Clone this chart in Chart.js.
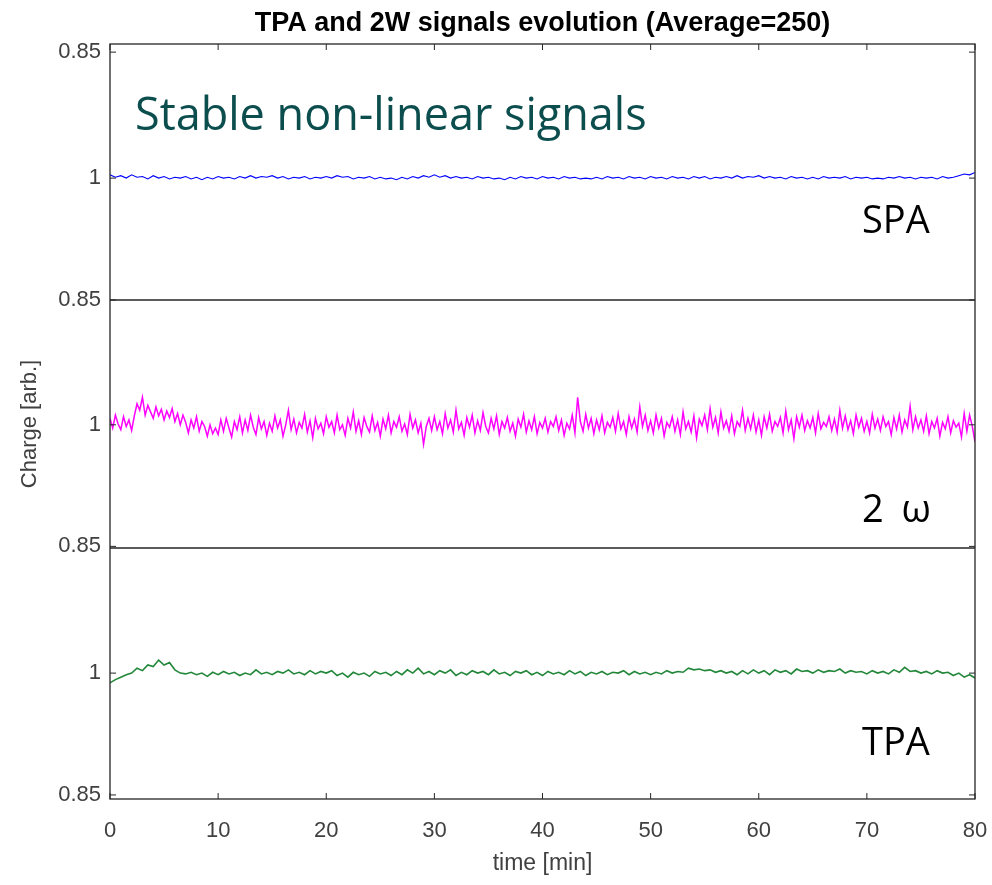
<!DOCTYPE html>
<html>
<head>
<meta charset="utf-8">
<script src="https://cdn.jsdelivr.net/npm/chart.js@4.4.1/dist/chart.umd.min.js"></script>
<style>
  html, body { margin: 0; padding: 0; background: #fff; }
  #wrap { width: 992px; height: 885px; }
</style>
</head>
<body>
<div id="wrap"><canvas id="signalsChart" width="992" height="885"></canvas></div>
<script>
// sampling steps of the recorded traces (minutes)
var SPA_STEP = 0.5;
var TWOW_STEP = 0.25;
var TPA_STEP = 0.5;

// SPA trace (blue), one value every 0.5 min from 0 to 80
var spaValues = [
    1.004, 1.001, 1.003, 1.000, 1.004, 1.001, 1.002, 0.999, 1.003, 1.000,
    1.002, 0.999, 1.001, 1.000, 1.002, 0.999, 1.001, 0.998, 1.001, 0.999,
    1.002, 1.000, 1.001, 0.999, 1.002, 1.000, 1.003, 1.000, 1.002, 1.001,
    1.003, 1.000, 1.002, 0.999, 1.001, 1.000, 1.002, 0.999, 1.001, 1.000,
    1.002, 1.000, 1.003, 1.001, 1.002, 0.999, 1.001, 1.000, 1.002, 0.999,
    1.001, 0.999, 1.000, 0.998, 1.001, 0.999, 1.002, 1.000, 1.003, 1.001,
    1.004, 1.001, 1.003, 1.000, 1.002, 1.000, 1.001, 0.999, 1.002, 1.000,
    1.001, 0.999, 1.000, 0.998, 1.001, 0.999, 1.002, 1.000, 1.001, 0.999,
    1.002, 1.000, 1.001, 0.999, 1.002, 1.000, 1.001, 0.999, 1.000, 0.999,
    1.001, 0.999, 1.002, 1.000, 1.001, 0.999, 1.002, 1.000, 1.001, 0.999,
    1.002, 1.000, 1.001, 0.999, 1.002, 1.000, 1.001, 0.999, 1.002, 1.000,
    1.002, 0.999, 1.001, 1.000, 1.002, 1.000, 1.003, 1.000, 1.002, 1.001,
    1.003, 1.000, 1.002, 1.000, 1.001, 0.999, 1.002, 1.000, 1.001, 0.999,
    1.001, 0.999, 1.002, 1.000, 1.001, 1.000, 1.002, 0.999, 1.001, 1.000,
    1.001, 0.999, 1.000, 0.999, 1.001, 1.000, 1.002, 1.000, 1.001, 0.999,
    1.001, 1.000, 1.001, 0.999, 1.002, 1.000, 1.001, 1.003, 1.005, 1.004,
    1.007
];

// 2 omega trace (magenta), one value every 0.25 min
var twoWValues = [
    1.008, 0.996, 1.012, 1.001, 0.994, 1.010, 0.998, 1.006, 0.993, 1.011,
    1.026, 1.018, 1.034, 1.012, 1.024, 1.016, 1.008, 1.022, 1.011, 1.019,
    1.006, 1.017, 1.009, 1.020, 1.004, 1.014, 1.000, 1.012, 1.003, 0.990,
    1.006, 0.996, 1.010, 0.992, 1.004, 0.998, 0.986, 1.000, 0.989, 0.996,
    0.988, 1.006, 0.992, 1.008, 0.996, 0.985, 1.004, 0.994, 1.010, 0.990,
    1.006, 0.993, 1.012, 0.997, 0.988, 1.009, 0.995, 1.004, 0.987, 1.002,
    0.992, 1.011, 0.996, 1.006, 0.986, 1.000, 1.018, 0.994, 1.007, 0.990,
    1.003, 0.996, 1.013, 0.991, 1.005, 0.984, 1.008, 0.995, 1.002, 0.989,
    1.010, 0.997, 1.004, 0.990, 1.012, 0.994, 1.000, 0.987, 1.008, 0.996,
    1.016, 0.992, 1.005, 0.988, 1.009, 0.998, 0.991, 1.011, 0.993, 1.003,
    0.986, 1.007, 0.995, 1.012, 0.990, 1.004, 0.997, 1.010, 0.992, 1.001,
    0.988, 1.013, 0.996, 1.006, 0.990, 1.002, 0.976, 0.998, 1.008, 0.993,
    1.010, 0.994, 1.004, 0.989, 1.014, 0.996, 1.006, 0.991, 1.018, 0.995,
    1.003, 0.987, 1.009, 0.997, 1.012, 0.990, 1.005, 0.993, 1.015, 0.998,
    0.990, 1.008, 0.995, 1.011, 0.988, 1.004, 0.996, 1.009, 0.992, 1.002,
    0.986, 1.007, 0.997, 1.013, 0.991, 1.005, 0.994, 1.010, 0.989, 1.003,
    0.996, 1.008, 0.991, 1.004, 0.998, 1.010, 0.993, 1.006, 0.987, 1.002,
    0.995, 1.012, 0.990, 1.034, 1.004, 0.992, 1.013, 0.996, 1.008, 0.989,
    1.006, 0.994, 1.011, 0.990, 1.003, 0.997, 1.009, 0.992, 1.014, 0.995,
    1.004, 0.988, 1.010, 0.996, 1.007, 0.991, 1.022, 0.998, 1.012, 0.993,
    1.005, 0.990, 1.012, 0.996, 1.008, 0.986, 1.003, 0.997, 1.010, 0.992,
    1.006, 0.988, 1.016, 0.995, 1.004, 0.991, 1.011, 0.984, 1.007, 0.999,
    1.012, 0.994, 1.020, 0.997, 1.009, 0.990, 1.016, 0.996, 1.005, 0.992,
    1.011, 0.989, 1.004, 0.998, 1.018, 0.993, 1.008, 0.995, 1.012, 0.991,
    1.006, 0.987, 1.010, 0.996, 1.013, 0.992, 1.004, 0.998, 1.009, 0.990,
    1.017, 0.994, 1.006, 0.983, 1.010, 0.997, 1.012, 0.993, 1.005, 0.996,
    1.009, 0.990, 1.014, 0.995, 1.003, 0.998, 1.010, 0.993, 1.007, 0.991,
    1.018, 0.996, 1.011, 0.994, 1.005, 0.989, 1.012, 0.997, 1.008, 0.992,
    1.004, 0.990, 1.013, 0.996, 1.007, 0.993, 1.010, 0.998, 1.004, 0.988,
    1.009, 0.995, 1.012, 0.991, 1.006, 0.997, 1.023, 0.994, 1.010, 0.996,
    1.006, 0.992, 1.011, 0.989, 1.004, 0.996, 1.008, 0.986, 1.003, 0.995,
    1.010, 0.990, 1.005, 0.997, 1.002, 0.985, 1.014, 0.992, 1.012, 0.998,
    0.979
];

// TPA trace (green), one value every 0.5 min
var tpaValues = [
    0.988, 0.992, 0.995, 0.998, 1.000, 1.006, 1.003, 1.010, 1.008, 1.016,
    1.010, 1.013, 1.004, 1.000, 0.999, 1.001, 0.998, 1.000, 0.996, 1.001,
    0.998, 1.002, 0.999, 1.001, 0.997, 1.000, 0.998, 1.004, 0.999, 1.001,
    0.998, 1.002, 1.000, 1.004, 0.999, 1.001, 0.998, 1.003, 0.999, 1.002,
    1.000, 1.003, 0.997, 1.000, 0.995, 1.001, 0.998, 1.000, 0.996, 1.002,
    0.999, 1.001, 0.997, 1.002, 0.998, 1.004, 1.000, 1.006, 0.999, 1.002,
    0.998, 1.003, 1.000, 1.004, 0.997, 1.001, 0.998, 1.003, 1.000, 1.002,
    0.998, 1.004, 0.999, 1.001, 0.997, 1.002, 1.000, 1.003, 0.998, 1.001,
    0.997, 1.002, 0.999, 1.001, 0.998, 1.003, 0.999, 1.002, 0.997, 1.001,
    0.999, 1.002, 0.998, 1.001, 1.000, 1.003, 0.998, 1.002, 0.999, 1.001,
    0.998, 1.001, 0.999, 1.003, 1.000, 1.002, 1.001, 1.006, 1.004, 1.005,
    1.003, 1.004, 1.001, 1.003, 1.000, 1.002, 0.998, 1.003, 0.999, 1.004,
    1.000, 1.003, 0.998, 1.004, 1.001, 1.003, 0.999, 1.005, 1.002, 1.003,
    1.000, 1.004, 1.001, 1.003, 1.002, 1.005, 1.000, 1.003, 1.001, 1.002,
    0.999, 1.003, 1.000, 1.002, 0.999, 1.004, 1.001, 1.007, 1.002, 1.003,
    1.000, 1.002, 0.999, 1.003, 1.000, 1.001, 0.997, 1.000, 0.995, 0.998,
    0.994
];

// x ticks (minutes)
var xTicks = [0, 10, 20, 30, 40, 50, 60, 70, 80];
// y ticks per panel, with the labels printed in the figure
var spaTicks = [0.85, 1, 1.155];
var midTicks = [0.85, 1];
var tpaTicks = [0.85, 1];
var yTickLabels = { '0.85': '0.85', '1': '1', '1.155': '0.85' };

// panel annotations
var bigNote = 'Stable non-linear signals';
var panelNames = ['SPA', '2 \u03c9', 'TPA'];

function toPoints(values, step) {
    return values.map(function (v, i) { return { x: i * step, y: v }; });
}

var FONT = '"Liberation Sans", Arial, sans-serif';
var AXIS_COLOR = '#262626';
var LABEL_COLOR = '#404040';

function yScale(min, max, weight, ticks, title) {
    return {
        type: 'linear',
        position: 'left',
        stack: 'panels',
        stackWeight: weight,
        min: min,
        max: max,
        grid: { display: false },
        border: { display: false },
        afterBuildTicks: function (scale) {
            scale.ticks = ticks.map(function (t) { return { value: t }; });
        },
        afterFit: function (scale) { scale.width = 100; },
        ticks: {
            padding: 1,
            color: LABEL_COLOR,
            font: { family: FONT, size: 22 },
            callback: function (value) { return yTickLabels[String(value)]; }
        },
        title: {
            display: !!title,
            text: title || '',
            color: LABEL_COLOR,
            font: { family: FONT, size: 22 },
            padding: { top: 7, bottom: 4 }
        }
    };
}

// frame, panel dividers, inward tick marks and text notes (matlab style)
var framePlugin = {
    id: 'frame',
    afterDatasetsDraw: function (chart) {
        var ctx = chart.ctx;
        var a = chart.chartArea;
        var s = chart.scales;
        ctx.save();
        ctx.strokeStyle = AXIS_COLOR;
        ctx.lineWidth = 1.3;
        ctx.strokeRect(a.left, a.top, a.right - a.left, a.bottom - a.top);
        ctx.beginPath();
        [s.yMid, s.yTpa].forEach(function (sc) {
            ctx.moveTo(a.left, sc.top);
            ctx.lineTo(a.right, sc.top);
        });
        ctx.stroke();

        ctx.lineWidth = 1;
        ctx.beginPath();
        xTicks.forEach(function (t) {
            var px = s.x.getPixelForValue(t);
            ctx.moveTo(px, a.bottom);
            ctx.lineTo(px, a.bottom - 6);
            ctx.moveTo(px, a.top);
            ctx.lineTo(px, a.top + 6);
        });
        [[s.ySpa, spaTicks], [s.yMid, midTicks], [s.yTpa, tpaTicks]].forEach(function (p) {
            p[1].forEach(function (t) {
                var py = p[0].getPixelForValue(t);
                ctx.moveTo(a.left, py);
                ctx.lineTo(a.left + 6, py);
                ctx.moveTo(a.right, py);
                ctx.lineTo(a.right - 6, py);
            });
        });
        ctx.stroke();

        ctx.textBaseline = 'alphabetic';
        ctx.textAlign = 'left';
        ctx.fillStyle = '#0c4d4e';
        ctx.font = '45px "Open Sans", sans-serif';
        ctx.fillText(bigNote, a.left + 25, 130);

        ctx.fillStyle = '#000';
        ctx.font = '38px "Open Sans", sans-serif';
        var baselines = [233, 522, 755];
        panelNames.forEach(function (name, i) {
            ctx.letterSpacing = i === 1 ? '4px' : '0px';
            ctx.fillText(name, 862, baselines[i]);
        });
        ctx.restore();
    }
};

var ctx = document.getElementById('signalsChart').getContext('2d');

var signalsChart = new Chart(ctx, {
    type: 'line',
    data: {
        datasets: [
            {
                label: 'TPA',
                data: toPoints(tpaValues, TPA_STEP),
                yAxisID: 'yTpa',
                borderColor: '#23873a',
                borderWidth: 1.6,
                pointRadius: 0,
                tension: 0
            },
            {
                label: '2W',
                data: toPoints(twoWValues, TWOW_STEP),
                yAxisID: 'yMid',
                borderColor: '#ff00ff',
                borderWidth: 1.5,
                pointRadius: 0,
                tension: 0
            },
            {
                label: 'SPA',
                data: toPoints(spaValues, SPA_STEP),
                yAxisID: 'ySpa',
                borderColor: '#0000ff',
                borderWidth: 1.1,
                pointRadius: 0,
                tension: 0
            }
        ]
    },
    options: {
        responsive: false,
        animation: false,
        layout: { padding: { left: 10, right: 17, top: 0, bottom: 0 } },
        scales: {
            x: {
                type: 'linear',
                min: 0,
                max: 80,
                grid: { display: false },
                border: { display: false },
                afterBuildTicks: function (scale) {
                    scale.ticks = xTicks.map(function (t) { return { value: t }; });
                },
                afterFit: function (scale) {
                    scale.height = 86;
                    scale.paddingLeft = 0;
                    scale.paddingRight = 0;
                },
                ticks: {
                    padding: 11,
                    color: LABEL_COLOR,
                    font: { family: FONT, size: 22 }
                },
                title: {
                    display: true,
                    text: 'time [min]',
                    color: LABEL_COLOR,
                    font: { family: FONT, size: 23 },
                    padding: { top: 0, bottom: 8 }
                }
            },
            yTpa: yScale(0.845, 1.154, 251, tpaTicks),
            yMid: yScale(0.848, 1.154, 248, midTicks, 'Charge [arb.]'),
            ySpa: yScale(0.85, 1.165, 256, spaTicks)
        },
        plugins: {
            legend: { display: false },
            tooltip: { enabled: false },
            title: {
                display: true,
                fullSize: false,
                text: 'TPA and 2W signals evolution (Average=250)',
                color: '#000',
                font: { family: FONT, size: 27, weight: 'bold' },
                padding: { top: 7, bottom: 4.6 }
            }
        }
    },
    plugins: [framePlugin]
});
</script>
</body>
</html>
